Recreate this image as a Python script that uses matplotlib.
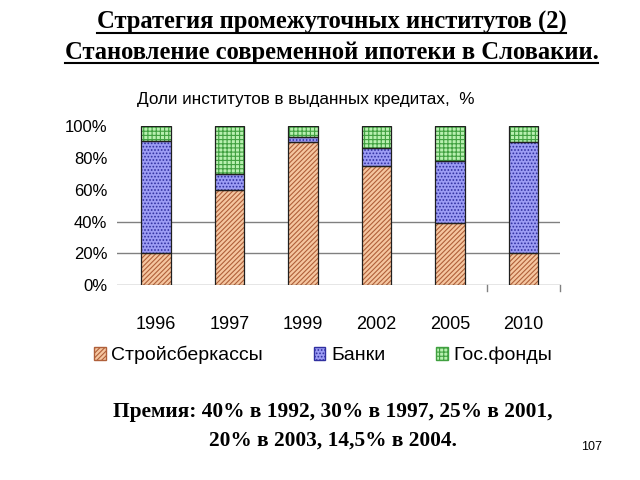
import matplotlib
matplotlib.use('Agg')
import matplotlib.pyplot as plt
from matplotlib.patches import Patch
from matplotlib.lines import Line2D
import numpy as np

years = ['1996', '1997', '1999', '2002', '2005', '2010']
stroy = [20, 60, 90, 75, 39, 20]      # Стройсберкассы
banki = [71, 10, 3, 11, 39, 70]       # Банки
gos = [9, 30, 7, 14, 22, 10]          # Гос.фонды
series_names = ['Стройсберкассы', 'Банки', 'Гос.фонды']
yticks = [0, 20, 40, 60, 80, 100]

sans = ['Liberation Sans', 'DejaVu Sans']
serif = ['Liberation Serif', 'DejaVu Serif']

plt.rcParams['hatch.linewidth'] = 0.8

fig = plt.figure(figsize=(6.4, 4.8), dpi=100)
ax = fig.add_axes([0.183, 0.406, 0.692, 0.331])

x = np.arange(len(years))
w = 0.4
styles = [
    dict(facecolor='#f5c6a0', hatch='///////', edgecolor='#b0603a'),
    dict(facecolor='#9c9cf4', hatch='.....', edgecolor='#3030a0'),
    dict(facecolor='#b8f0b0', hatch='++++', edgecolor='#40a040'),
]
bottom = np.zeros(len(years))
for vals, st in zip([stroy, banki, gos], styles):
    ax.bar(x, vals, w, bottom=bottom, color=st['facecolor'], hatch=st['hatch'],
           edgecolor=st['edgecolor'], linewidth=0, zorder=3)
    ax.bar(x, vals, w, bottom=bottom, fill=False, edgecolor='#202020', linewidth=0.9, zorder=4)
    bottom += np.array(vals)

for g in [0, 20, 40]:
    ax.axhline(g, color='#808080', linewidth=1.0, zorder=1)

ax.set_xlim(-0.53, 5.5)
ax.set_ylim(0, 100)
ax.set_yticks(yticks)
ax.set_yticklabels([f'{v}%' for v in yticks], family=sans, fontsize=12)
ax.set_xticks(x)
ax.set_xticklabels(years, family=sans, fontsize=13)
ax.tick_params(axis='both', length=0)
ax.tick_params(axis='x', pad=22)
ax.tick_params(axis='y', pad=7)
for s in ax.spines.values():
    s.set_visible(False)
# small category-separator ticks at the right
for xb in [4.5, 5.5]:
    ax.plot([xb, xb], [0, -4], color='#808080', linewidth=1.0, clip_on=False)

fig.text(0.214, 0.792, 'Доли институтов в выданных кредитах,  %', family=sans,
         fontsize=12.3, ha='left', va='center')

handles = [Patch(facecolor=st['facecolor'], hatch=st['hatch'], edgecolor=st['edgecolor'])
           for st in styles]
fig.legend(handles, series_names, loc='center', bbox_to_anchor=(0.505, 0.26), ncol=3,
           frameon=False, prop={'family': sans, 'size': 14}, handlelength=0.6,
           handleheight=0.6, handletextpad=0.3, columnspacing=2.6)

t1 = fig.text(0.518, 0.953, 'Стратегия промежуточных институтов (2)', family=serif,
              fontweight='bold', fontsize=17.7, ha='center', va='center')
t2 = fig.text(0.518, 0.891, 'Становление современной ипотеки в Словакии.', family=serif,
              fontweight='bold', fontsize=17.7, ha='center', va='center')
fig.text(0.52, 0.142, 'Премия: 40% в 1992, 30% в 1997, 25% в 2001,', family=serif,
         fontweight='bold', fontsize=15.4, ha='center', va='center')
fig.text(0.52, 0.083, '20% в 2003, 14,5% в 2004.', family=serif,
         fontweight='bold', fontsize=15.4, ha='center', va='center')
fig.text(0.925, 0.069, '107', family=sans, fontsize=9, ha='center', va='center')

fig.canvas.draw()
r = fig.canvas.get_renderer()
for t in [t1, t2]:
    bb = t.get_window_extent(r).transformed(fig.transFigure.inverted())
    fig.add_artist(Line2D([bb.x0, bb.x1], [bb.y0 + 0.002, bb.y0 + 0.002],
                          transform=fig.transFigure, color='black', linewidth=1.5))

fig.savefig('out.png', dpi=100)
